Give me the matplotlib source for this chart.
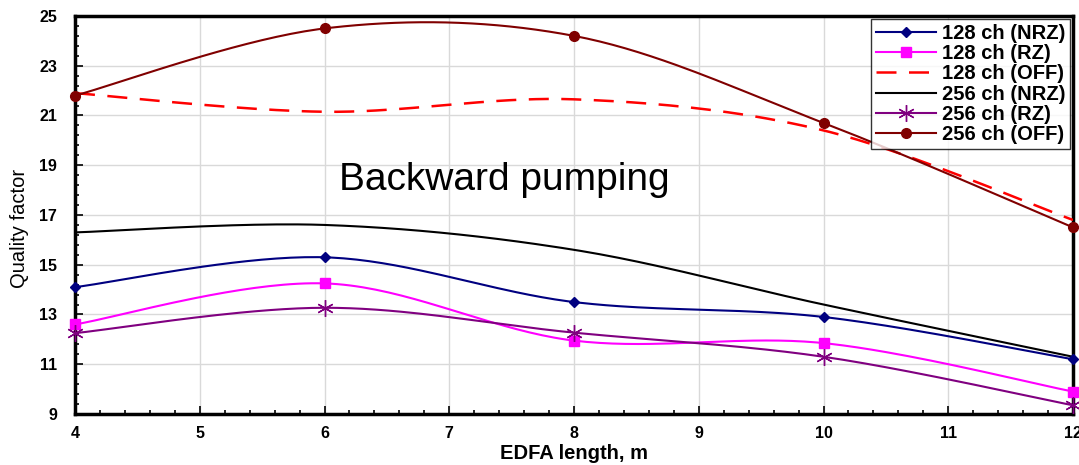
import numpy as np
import matplotlib
matplotlib.use("Agg")
import matplotlib.pyplot as plt
from matplotlib.ticker import FixedLocator, MultipleLocator

plt.rcParams['font.family'] = ['Liberation Sans', 'DejaVu Sans']

# data
edfa_len = [4, 6, 8, 10, 12]
q_128_nrz = [14.1, 15.3, 13.5, 12.9, 11.2]
q_128_rz = [12.6, 14.25, 11.95, 11.85, 9.9]
q_128_off = [21.9, 21.15, 21.65, 20.4, 16.8]
q_256_nrz = [16.3, 16.6, 15.6, 13.4, 11.3]
q_256_rz = [12.25, 13.27, 12.27, 11.3, 9.35]
q_256_off = [21.8, 24.5, 24.2, 20.7, 16.5]
y_ticks = [9, 11, 13, 15, 17, 19, 21, 23, 25]


def smooth(xs, ys, n=40):
    # Excel-like smoothed line (cubic Bezier, Catmull-Rom control points)
    p = np.column_stack([xs, ys]).astype(float)
    pts = [p[0]] + list(p) + [p[-1]]
    out = []
    t = np.linspace(0, 1, n)[:, None]
    for i in range(1, len(pts) - 2):
        p0, p1, p2, p3 = pts[i - 1], pts[i], pts[i + 1], pts[i + 2]
        c1 = p1 + (p2 - p0) / 6
        c2 = p2 - (p3 - p1) / 6
        seg = ((1 - t) ** 3) * p1 + 3 * ((1 - t) ** 2) * t * c1 + 3 * (1 - t) * t ** 2 * c2 + t ** 3 * p2
        out.append(seg if i == 1 else seg[1:])
    seg = np.vstack(out)
    return seg[:, 0], seg[:, 1]


series = [
    ("128 ch (NRZ)", q_128_nrz, dict(color='#000080', ls='-', marker='D', ms=5)),
    ("128 ch (RZ)", q_128_rz, dict(color='#FF00FF', ls='-', marker='s', ms=7)),
    ("128 ch (OFF)", q_128_off, dict(color='#FF0000', ls=(0, (8, 5)), marker=None, lw=1.8)),
    ("256 ch (NRZ)", q_256_nrz, dict(color='#000000', ls='-', marker=None)),
    ("256 ch (RZ)", q_256_rz, dict(color='#800080', ls='-', marker=(6, 2, 0), ms=12, mew=1.0)),
    ("256 ch (OFF)", q_256_off, dict(color='#800000', ls='-', marker='o', ms=7)),
]

fig = plt.figure(figsize=(10.79, 4.65), dpi=100)
ax = fig.add_axes([0.0695, 0.1097, 0.9250, 0.8559])

for name, ys, st in series:
    sx, sy = smooth(edfa_len, ys)
    lw = st.get('lw', 1.5)
    ax.plot(sx, sy, color=st['color'], ls=st['ls'], lw=lw, zorder=3)
    if st['marker'] is not None:
        ax.plot(edfa_len, ys, ls='none', marker=st['marker'], color=st['color'],
                ms=st['ms'], mew=st.get('mew', 1.0), zorder=4, clip_on=False)
    # legend proxy
    ax.plot([], [], color=st['color'], ls=st['ls'], lw=lw, marker=st['marker'],
            ms=st.get('ms', 6), mew=st.get('mew', 1.0), label=name)

ax.set_xlim(4, 12)
ax.set_ylim(9, 25)
ax.xaxis.set_major_locator(MultipleLocator(1))
ax.xaxis.set_minor_locator(MultipleLocator(0.2))
ax.yaxis.set_major_locator(FixedLocator(y_ticks))
ax.yaxis.set_minor_locator(FixedLocator(np.arange(9, 25.01, 0.4)))
ax.tick_params(which='both', direction='in', width=1.2)
ax.tick_params(which='major', length=6, labelsize=11.5)
ax.tick_params(axis='x', which='major', pad=9)
ax.tick_params(axis='y', which='major', pad=13)
ax.tick_params(which='minor', length=3)
for lab in ax.get_xticklabels() + ax.get_yticklabels():
    lab.set_fontweight('bold')
ax.grid(True, which='major', color='#d9d9d9', lw=1.0)
ax.set_axisbelow(True)
for sp in ax.spines.values():
    sp.set_linewidth(2.5)

ax.set_xlabel("EDFA length, m", fontsize=14.5, fontweight='bold', labelpad=2)
ax.set_ylabel("Quality factor", fontsize=14.5)
ax.yaxis.set_label_coords(-0.046, 0.465)
ax.text(7.44, 18.4, "Backward pumping", fontsize=28, ha='center', va='center')

leg = ax.legend(loc='upper right', prop={'weight': 'bold', 'size': 14.5},
                frameon=True, fancybox=False, borderaxespad=0.15, handlelength=3.0,
                labelspacing=0.06, borderpad=0.25, handletextpad=0.25)
leg.get_frame().set_edgecolor('black')
leg.get_frame().set_linewidth(1.0)

fig.savefig("out.png", dpi=100)
